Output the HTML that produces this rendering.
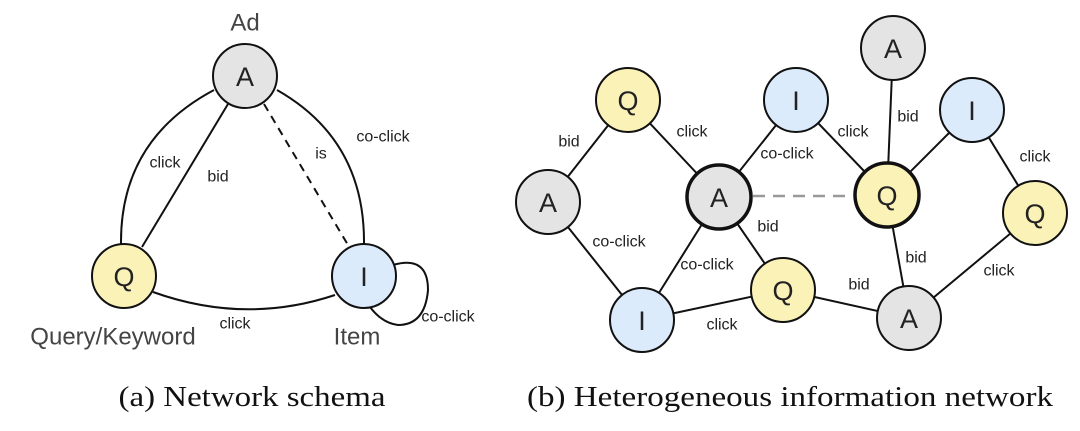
<!DOCTYPE html>
<html><head><meta charset="utf-8"><style>
html,body{margin:0;padding:0;background:#fff;}
svg{display:block;}
.n{font-family:"Liberation Sans",sans-serif;font-size:27px;fill:#222;text-anchor:middle;dominant-baseline:central;}
.l{font-family:"Liberation Sans",sans-serif;font-size:16px;fill:#222;text-anchor:middle;dominant-baseline:central;}
.t{font-family:"Liberation Sans",sans-serif;font-size:24px;fill:#444;text-anchor:middle;dominant-baseline:central;}
.c{font-family:"Liberation Serif",serif;font-size:29px;fill:#111;text-anchor:middle;dominant-baseline:central;}
</style></head><body>
<svg width="1080" height="431" viewBox="0 0 1080 431" xmlns="http://www.w3.org/2000/svg">
<g fill="none" stroke="#111" stroke-width="2">
<path d="M214 90 Q120 140 121 244"/>
<path d="M277 90 Q365 140 364 244"/>
<path d="M153 292 Q245 325 335 295"/>
<line x1="228" y1="104" x2="142" y2="247"/>
<line x1="264" y1="104" x2="348" y2="245" stroke-dasharray="8,6"/>
<path d="M393 265 Q428 255 428 290 Q425 325 398 325 Q382 323 370 307"/>
</g>
<circle cx="245" cy="76" r="32" fill="#e4e4e4" stroke="#111" stroke-width="2"/>
<circle cx="124" cy="276" r="32" fill="#fbf2b8" stroke="#111" stroke-width="2"/>
<circle cx="364" cy="276" r="32" fill="#dcebfb" stroke="#111" stroke-width="2"/>
<text class="n" x="245" y="77">A</text>
<text class="n" x="124" y="277">Q</text>
<text class="n" x="364" y="277">I</text>
<text class="t" x="245" y="23">Ad</text>
<text class="t" x="113" y="337">Query/Keyword</text>
<text class="t" x="357" y="337">Item</text>
<text class="l" x="165" y="163">click</text>
<text class="l" x="218" y="177">bid</text>
<text class="l" x="321" y="154">is</text>
<text class="l" x="383" y="137">co-click</text>
<text class="l" x="235" y="324">click</text>
<text class="l" x="448" y="317">co-click</text>
<text class="c" x="252" y="397" textLength="267" lengthAdjust="spacingAndGlyphs">(a) Network schema</text>

<g stroke="#111" stroke-width="2">
<line x1="628" y1="100" x2="548" y2="202"/>
<line x1="628" y1="100" x2="719" y2="197"/>
<line x1="548" y1="202" x2="642" y2="320"/>
<line x1="719" y1="197" x2="642" y2="320"/>
<line x1="719" y1="197" x2="796" y2="100"/>
<line x1="719" y1="197" x2="783" y2="290"/>
<line x1="796" y1="100" x2="887" y2="195"/>
<line x1="893" y1="48" x2="887" y2="195"/>
<line x1="972" y1="110" x2="887" y2="195"/>
<line x1="972" y1="110" x2="1035" y2="213"/>
<line x1="887" y1="195" x2="909" y2="318"/>
<line x1="1035" y1="213" x2="909" y2="318"/>
<line x1="642" y1="320" x2="783" y2="290"/>
<line x1="783" y1="290" x2="909" y2="318"/>
<line x1="753" y1="196" x2="853" y2="196" stroke="#999" stroke-width="2.5" stroke-dasharray="12,8"/>
</g>
<g stroke="#111" stroke-width="2">
<circle cx="628" cy="100" r="32" fill="#fbf2b8"/>
<circle cx="548" cy="202" r="32" fill="#e4e4e4"/>
<circle cx="719" cy="197" r="32" fill="#e4e4e4" stroke-width="3.5"/>
<circle cx="796" cy="100" r="32" fill="#dcebfb"/>
<circle cx="893" cy="48" r="32" fill="#e4e4e4"/>
<circle cx="972" cy="110" r="32" fill="#dcebfb"/>
<circle cx="887" cy="195" r="32" fill="#fbf2b8" stroke-width="3.5"/>
<circle cx="1035" cy="213" r="32" fill="#fbf2b8"/>
<circle cx="642" cy="320" r="32" fill="#dcebfb"/>
<circle cx="783" cy="290" r="32" fill="#fbf2b8"/>
<circle cx="909" cy="318" r="32" fill="#e4e4e4"/>
</g>
<text class="n" x="628" y="101">Q</text>
<text class="n" x="548" y="203">A</text>
<text class="n" x="719" y="198">A</text>
<text class="n" x="796" y="101">I</text>
<text class="n" x="893" y="49">A</text>
<text class="n" x="972" y="111">I</text>
<text class="n" x="887" y="196">Q</text>
<text class="n" x="1035" y="214">Q</text>
<text class="n" x="642" y="321">I</text>
<text class="n" x="783" y="291">Q</text>
<text class="n" x="909" y="319">A</text>
<text class="l" x="569" y="142">bid</text>
<text class="l" x="692" y="132">click</text>
<text class="l" x="787" y="154">co-click</text>
<text class="l" x="853" y="132">click</text>
<text class="l" x="908" y="117">bid</text>
<text class="l" x="1035" y="157">click</text>
<text class="l" x="768" y="227">bid</text>
<text class="l" x="619" y="242">co-click</text>
<text class="l" x="707" y="265">co-click</text>
<text class="l" x="916" y="258">bid</text>
<text class="l" x="859" y="285">bid</text>
<text class="l" x="999" y="271">click</text>
<text class="l" x="722" y="325">click</text>
<text class="c" x="790" y="397" textLength="526" lengthAdjust="spacingAndGlyphs">(b) Heterogeneous information network</text>
</svg>
</body></html>
